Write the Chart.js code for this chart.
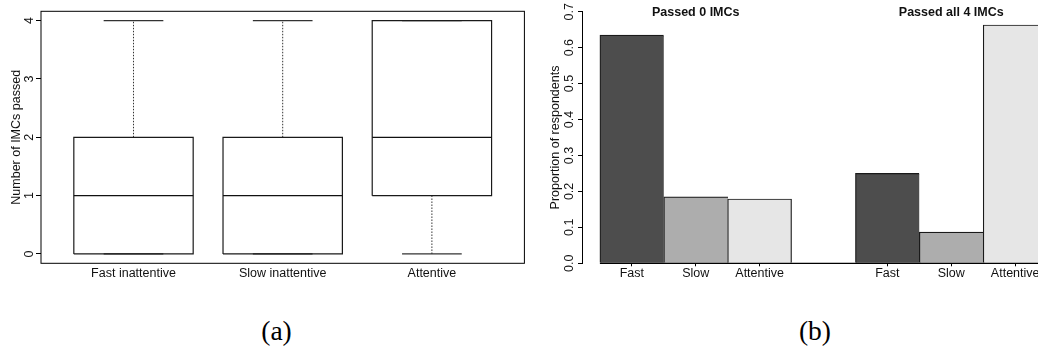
<!DOCTYPE html>
<html><head><meta charset="utf-8">
<script src="https://cdn.jsdelivr.net/npm/chart.js@4/dist/chart.umd.min.js"></script>
<style>
html,body{margin:0;padding:0;background:#fff;width:1038px;height:354px;overflow:hidden;position:relative}
#ca{position:absolute;left:0;top:0}
#cb{position:absolute;left:530px;top:0}
.lab{position:absolute;width:100px;text-align:center;font-family:"Liberation Serif","Times New Roman",serif;font-size:27.5px;line-height:27.5px;color:#000}
</style></head><body>
<canvas id="ca" width="530" height="290"></canvas>
<canvas id="cb" width="540" height="290"></canvas>
<div class="lab" style="left:226.5px;top:317px">(a)</div>
<div class="lab" style="left:765px;top:317px">(b)</div>
<script>
// ---------- data: panel (a) box plot ----------
const boxCategories = ['Fast inattentive', 'Slow inattentive', 'Attentive'];
const boxMin    = [0, 0, 0];
const boxQ1     = [0, 0, 1];
const boxMedian = [1, 1, 2];
const boxQ3     = [2, 2, 4];
const boxMax    = [4, 4, 4];
const boxYTicks = [0, 1, 2, 3, 4];
const boxYTitle = 'Number of IMCs passed';

// ---------- data: panel (b) grouped bars ----------
const groupTitles   = ['Passed 0 IMCs', 'Passed all 4 IMCs'];
const barCategories = ['Fast', 'Slow', 'Attentive'];
const passedNone    = [0.635, 0.185, 0.179];
const passedAll     = [0.250, 0.087, 0.663];
const barYTicks     = [0.0, 0.1, 0.2, 0.3, 0.4, 0.5, 0.6, 0.7];
const barYTitle     = 'Proportion of respondents';

// ---------- styles ----------
const SANS = '"Liberation Sans", Arial, Helvetica, sans-serif';
const FS = 12.5;
const TXT = '#111';
const barColors = ['#4d4d4d', '#adadad', '#e6e6e6'];
const BOX_W = 0.8, CAP_W = 0.4;

// ================= Panel (a) =================
const boxPos = boxCategories.map((c, i) => i + 1);
const seg = (pts, o) => Object.assign({type: 'line', data: pts, borderColor: '#222', borderWidth: 1,
  pointRadius: 0, pointHoverRadius: 0, fill: false, tension: 0}, o);
const dsA = [];
// medians
boxPos.forEach((x, i) => dsA.push(seg([{x: x - BOX_W / 2, y: boxMedian[i]}, {x: x + BOX_W / 2, y: boxMedian[i]}],
  {borderColor: '#111', borderWidth: 1.3, order: 0})));
// box outlines
boxPos.forEach((x, i) => {
  const l = x - BOX_W / 2, r = x + BOX_W / 2;
  dsA.push(seg([{x: l, y: boxQ1[i]}, {x: r, y: boxQ1[i]}, {x: r, y: boxQ3[i]}, {x: l, y: boxQ3[i]}, {x: l, y: boxQ1[i]}],
    {borderColor: '#1a1a1a', borderWidth: 1.2, order: 1, borderJoinStyle: 'miter'}));
});
// caps
boxPos.forEach((x, i) => {
  dsA.push(seg([{x: x - CAP_W / 2, y: boxMax[i]}, {x: x + CAP_W / 2, y: boxMax[i]}], {borderColor: '#333', borderWidth: 1.3, order: 2}));
  dsA.push(seg([{x: x - CAP_W / 2, y: boxMin[i]}, {x: x + CAP_W / 2, y: boxMin[i]}], {borderColor: '#333', borderWidth: 1.3, order: 2}));
});
// box fills
dsA.push({type: 'bar', data: boxPos.map((x, i) => ({x: x, y: [boxQ1[i], boxQ3[i]]})),
  backgroundColor: '#fff', borderWidth: 0, barPercentage: BOX_W, categoryPercentage: 1, order: 3});
// whiskers
boxPos.forEach((x, i) => {
  if (boxMax[i] > boxQ3[i]) dsA.push(seg([{x: x, y: boxQ3[i]}, {x: x, y: boxMax[i]}], {borderDash: [1.5, 1.5], borderColor: '#333', order: 4}));
  if (boxMin[i] < boxQ1[i]) dsA.push(seg([{x: x, y: boxMin[i]}, {x: x, y: boxQ1[i]}], {borderDash: [1.5, 1.5], borderColor: '#333', order: 4}));
});

const frameA = {
  id: 'frameA',
  afterDraw(chart) {
    const {ctx, chartArea: a, scales: {y}} = chart;
    ctx.save();
    ctx.strokeStyle = '#000'; ctx.lineWidth = 1;
    ctx.strokeRect(a.left, a.top, a.right - a.left, a.bottom - a.top);
    ctx.fillStyle = TXT; ctx.font = FS + 'px ' + SANS;
    ctx.textAlign = 'center'; ctx.textBaseline = 'middle';
    y.ticks.forEach(t => {
      ctx.save(); ctx.translate(30, y.getPixelForValue(t.value)); ctx.rotate(-Math.PI / 2);
      ctx.fillText(String(t.value), 0, 0); ctx.restore();
    });
    ctx.restore();
  }
};

new Chart(document.getElementById('ca'), {
  type: 'bar',
  data: {datasets: dsA},
  options: {
    responsive: false, animation: false, events: [],
    layout: {padding: {left: 0, top: 11.3, right: 5.6, bottom: 0}},
    plugins: {legend: {display: false}, tooltip: {enabled: false}},
    scales: {
      x: {type: 'linear', min: 0.38, max: 3.62, offset: false,
        afterBuildTicks: s => { s.ticks = boxPos.map(v => ({value: v})); },
        afterFit: s => { s.height = 26.7; },
        grid: {display: false, drawTicks: false, offset: false}, border: {display: false},
        ticks: {autoSkip: false, maxRotation: 0, padding: 2.5, color: TXT, font: {family: SANS, size: FS},
          callback: v => boxCategories[boxPos.indexOf(v)]}},
      y: {type: 'linear', min: -0.16, max: 4.16,
        afterBuildTicks: s => { s.ticks = boxYTicks.map(v => ({value: v})); },
        afterFit: s => { s.width = 41; },
        grid: {drawOnChartArea: false, drawTicks: true, tickLength: 5, color: '#000'}, border: {display: false},
        ticks: {display: false},
        title: {display: true, text: boxYTitle, color: TXT, font: {family: SANS, size: FS, lineHeight: 1.2}, padding: {top: 9.5, bottom: 0}}}
    }
  },
  plugins: [frameA]
});

// ================= Panel (b) =================
const groupValues = [passedNone, passedAll];
const barPts = [], barCol = [], barLast = [];
groupValues.forEach((vals, g) => vals.forEach((v, k) => {
  barPts.push({x: g * (barCategories.length + 1) + k + 1.5, y: v});
  barCol.push(barColors[k]);
  barLast.push(k === vals.length - 1);
}));
const tickPos = barPts.map(p => p.x);
const tickLab = groupValues.flatMap(vals => vals.map((v, k) => barCategories[k]));

const decoB = {
  id: 'decoB',
  afterDraw(chart) {
    const {ctx, chartArea: a, scales: {x, y}} = chart;
    const els = chart.getDatasetMeta(0).data;
    ctx.save();
    const y0 = y.getPixelForValue(0);
    const first = els[0];
    ctx.strokeStyle = '#000'; ctx.lineWidth = 1.3;
    ctx.beginPath(); ctx.moveTo(first.x - first.width / 2, y0); ctx.lineTo(a.right, y0); ctx.stroke();
    ctx.fillStyle = TXT; ctx.font = 'bold ' + FS + 'px ' + SANS; ctx.textAlign = 'center'; ctx.textBaseline = 'alphabetic';
    const n = barCategories.length;
    groupTitles.forEach((t, g) => {
      const xs = barPts.slice(g * n, g * n + n).map(p => p.x);
      const cx = (xs[0] + xs[xs.length - 1]) / 2;
      ctx.fillText(t, x.getPixelForValue(cx), 16);
    });
    ctx.font = FS + 'px ' + SANS; ctx.textBaseline = 'middle';
    y.ticks.forEach(t => {
      ctx.save(); ctx.translate(39.8, y.getPixelForValue(t.value)); ctx.rotate(-Math.PI / 2);
      ctx.fillText(Number(t.value).toFixed(1), 0, 0); ctx.restore();
    });
    ctx.restore();
  }
};

new Chart(document.getElementById('cb'), {
  type: 'bar',
  data: {datasets: [{
    data: barPts,
    backgroundColor: barCol,
    borderColor: '#1a1a1a',
    borderWidth: c => ({top: 1.2, left: 1.2, bottom: 0, right: barLast[c.dataIndex] ? 1.2 : 0}),
    borderSkipped: false,
    barPercentage: 1, categoryPercentage: 1
  }]},
  options: {
    responsive: false, animation: false, events: [],
    layout: {padding: {left: 0, top: 11.7, right: 5, bottom: 0}},
    plugins: {legend: {display: false}, tooltip: {enabled: false}},
    scales: {
      x: {type: 'linear', min: 0.72, max: 8.28, offset: false,
        afterBuildTicks: s => { s.ticks = tickPos.map(v => ({value: v})); },
        afterFit: s => { s.height = 26.7; },
        grid: {drawOnChartArea: false, drawTicks: true, tickLength: 3, color: '#000', offset: false}, border: {display: false},
        ticks: {autoSkip: false, maxRotation: 0, padding: 0, color: TXT, font: {family: SANS, size: FS},
          callback: v => tickLab[tickPos.indexOf(v)]}},
      y: {type: 'linear', min: 0, max: 0.7,
        afterBuildTicks: s => { s.ticks = barYTicks.map(v => ({value: v})); },
        afterFit: s => { s.width = 52; },
        grid: {drawOnChartArea: false, drawTicks: true, tickLength: 4, color: '#000'},
        border: {display: true, color: '#000', width: 1},
        ticks: {display: false},
        title: {display: true, text: barYTitle, color: TXT, font: {family: SANS, size: FS, lineHeight: 1.2}, padding: {top: 18.1, bottom: 0}}}
    }
  },
  plugins: [decoB]
});
</script>
</body></html>
